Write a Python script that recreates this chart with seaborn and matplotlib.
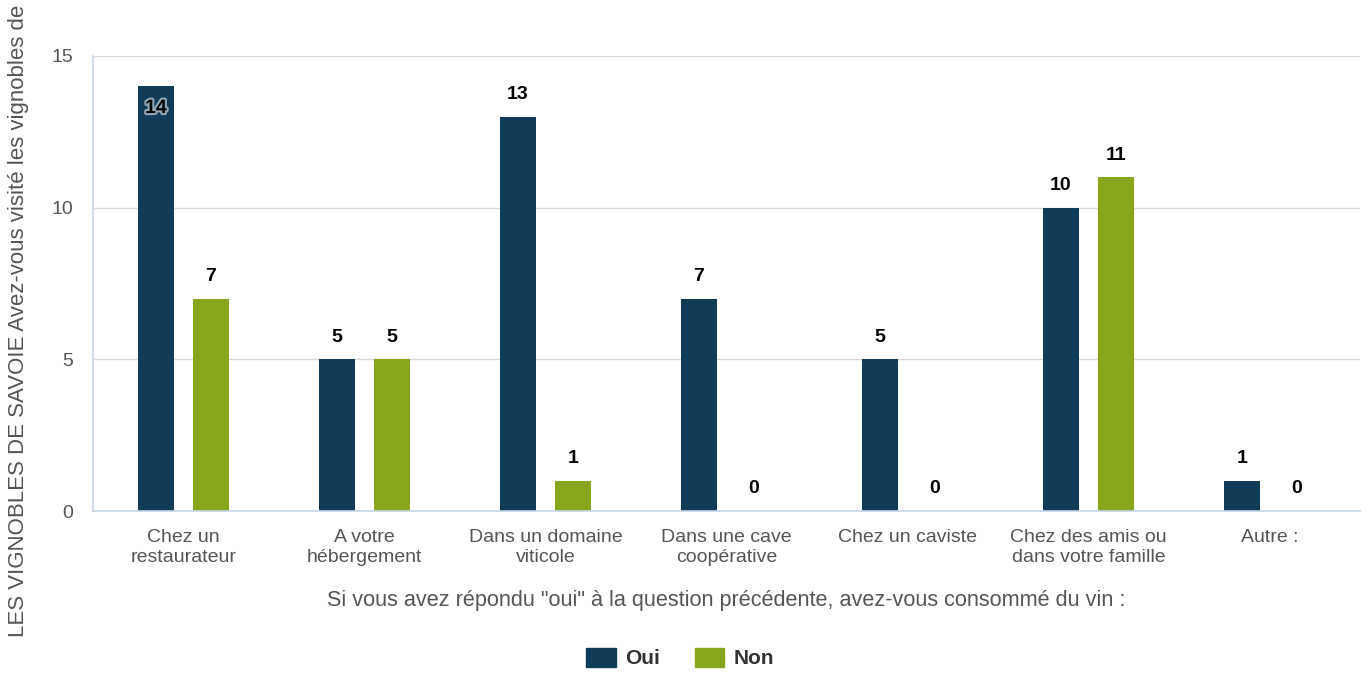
import pandas as pd
import matplotlib
matplotlib.use('Agg')
import matplotlib.pyplot as plt
import matplotlib.patheffects as pe
from matplotlib.ticker import FixedLocator
import seaborn as sns

categories = ["Chez un\nrestaurateur", "A votre\nhébergement", "Dans un domaine\nviticole",
              "Dans une cave\ncoopérative", "Chez un caviste", "Chez des amis ou\ndans votre famille",
              "Autre :"]
oui = [14, 5, 13, 7, 5, 10, 1]
non = [7, 5, 1, 0, 0, 11, 0]
series = ["Oui", "Non"]
colors = ["#103c58", "#87a61c"]

df = pd.DataFrame({"categorie": categories * 2,
                   "reponse": ["Oui"] * len(oui) + ["Non"] * len(non),
                   "valeur": oui + non})

sns.set_style("white")
plt.rcParams['font.family'] = ['Liberation Sans', 'DejaVu Sans']

fig = plt.figure(figsize=(13.69, 6.73), dpi=100)
ax = fig.add_axes([0.0679, 0.2407, 0.9255, 0.6761])

sns.barplot(data=df, x="categorie", y="valeur", hue="reponse", hue_order=series,
            palette=colors, width=0.608, gap=0.36, saturation=1, linewidth=0,
            ax=ax, legend=False)

ax.set_xlim(-0.5, 6.5)
ax.set_ylim(0, 15)
ax.set_yticks([0, 5, 10, 15])
ax.yaxis.grid(True, color="#d9d9d9", linewidth=1)
ax.set_axisbelow(True)
for s in ["top", "right"]:
    ax.spines[s].set_visible(False)
for s in ["left", "bottom"]:
    ax.spines[s].set_color("#c5d5e6")
    ax.spines[s].set_linewidth(1.2)

ax.tick_params(axis="y", length=0, labelsize=14, labelcolor="#555555", pad=14)
ax.tick_params(axis="x", which="major", length=0, labelsize=14, labelcolor="#555555", pad=13)
ax.xaxis.set_minor_locator(FixedLocator([i - 0.5 for i in range(len(categories) + 1)]))
ax.tick_params(axis="x", which="minor", length=11.5, width=1.2, color="#c5d5e6", direction="out")
ax.set_xticks(range(len(categories)))
ax.set_xticklabels(categories, linespacing=1.25)

# etiquettes de valeur
for cont in ax.containers:
    for bar in cont:
        h = bar.get_height()
        x = bar.get_x() + bar.get_width() / 2
        if h >= 14:
            ax.annotate(f"{int(h)}", (x, h), xytext=(0, -16), textcoords="offset points",
                        ha="center", va="center", fontsize=14, fontweight="bold", color="black",
                        path_effects=[pe.withStroke(linewidth=3, foreground="#e8eef3", alpha=0.6)])
        else:
            ax.annotate(f"{int(h)}", (x, h), xytext=(0, 16), textcoords="offset points",
                        ha="center", va="center", fontsize=14, fontweight="bold", color="black")

ax.set_xlabel('Si vous avez répondu "oui" à la question précédente, avez-vous consommé du vin :',
              fontsize=15.6, color="#555555", labelpad=17)
ax.set_ylabel("")
fig.text(0.0135, 1 - 637 / 673, "LES VIGNOBLES DE SAVOIE Avez-vous visité les vignobles de Savoie ?",
         rotation=90, ha="center", va="bottom", fontsize=16, color="#555555")

handles = [plt.Rectangle((0, 0), 1, 1, color=c) for c in colors]
fig.legend(handles, series, loc="center", bbox_to_anchor=(0.497, 1 - 658 / 673), ncol=2,
           frameon=False, handlelength=1.4, handleheight=1.05, handletextpad=0.45, columnspacing=1.7,
           prop={"size": 15, "weight": "bold"}, labelcolor="#333333")

fig.savefig("out.png", dpi=100)
